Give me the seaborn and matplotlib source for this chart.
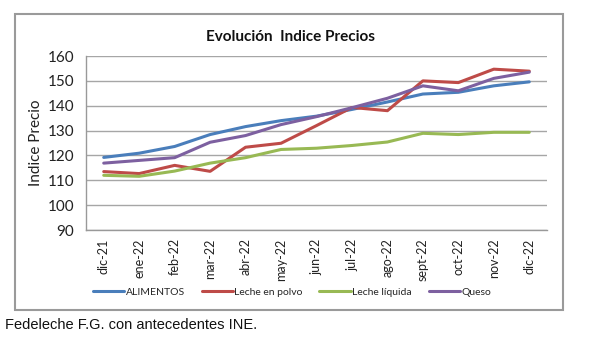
import matplotlib
matplotlib.use("Agg")
import matplotlib.pyplot as plt
import seaborn as sns
import pandas as pd
import numpy as np
from matplotlib.patches import Rectangle

months = ["dic-21", "ene-22", "feb-22", "mar-22", "abr-22", "may-22", "jun-22",
          "jul-22", "ago-22", "sept-22", "oct-22", "nov-22", "dic-22"]
alimentos = [119.2, 120.9, 123.6, 128.4, 131.6, 134.0, 135.8, 138.5, 141.5, 144.7, 145.4, 148.0, 149.6]
leche_polvo = [113.5, 112.7, 116.0, 113.6, 123.3, 124.9, 132.0, 139.3, 138.0, 150.0, 149.3, 154.7, 153.9]
leche_liquida = [112.0, 111.6, 113.7, 116.9, 119.1, 122.4, 122.9, 124.0, 125.4, 128.9, 128.4, 129.3, 129.3]
queso = [116.9, 118.0, 119.1, 125.3, 128.0, 132.4, 135.6, 139.2, 143.0, 148.0, 146.0, 151.0, 153.5]

series_names = ["ALIMENTOS", "Leche en polvo", "Leche líquida", "Queso"]
colors = ["#4A7EBB", "#BE4B48", "#98B954", "#7D60A0"]

df = pd.DataFrame({"mes": months, series_names[0]: alimentos, series_names[1]: leche_polvo,
                   series_names[2]: leche_liquida, series_names[3]: queso})
long = df.melt(id_vars="mes", var_name="serie", value_name="valor")
long["pos"] = long["mes"].map({m: i for i, m in enumerate(months)})

sns.set_style("white")
plt.rcParams["font.family"] = ["Lato", "DejaVu Sans"]

fig = plt.figure(figsize=(6.0, 3.48), dpi=100)
ax = fig.add_axes([86/600, 1-230/348, (547-86)/600, (230-56)/348])

sns.lineplot(data=long, x="pos", y="valor", hue="serie", palette=colors,
             hue_order=series_names, sort=False, linewidth=2.2, ax=ax, legend=False)

ax.set_xlim(-0.5, len(months) - 0.5)
ax.set_ylim(90, 160)
ax.set_yticks(np.arange(90, 161, 10))
ax.set_xticks(range(len(months)))
ax.set_xticklabels(months, rotation=90, fontsize=9, color="#222222")
ax.set_xticks(np.arange(-0.5, len(months), 1.0), minor=True)
ax.tick_params(axis="x", which="major", length=0, pad=6)
ax.tick_params(axis="x", which="minor", length=5, color="#999999", width=1, direction="out")
ax.tick_params(axis="y", length=5, color="#999999", width=1, direction="out", labelsize=11, labelcolor="#222222")
ax.set_xlabel("")
ax.set_ylabel("Indice Precio", fontsize=11, color="#222222")
ax.yaxis.set_label_coords((43 - 86) / 461, 0.5)
ax.yaxis.grid(True, color="#A6A6A6", linewidth=1)
ax.xaxis.grid(False)
for s in ["top", "right"]:
    ax.spines[s].set_visible(False)
ax.spines["left"].set_color("#999999")
ax.spines["bottom"].set_color("#999999")
ax.spines["left"].set_linewidth(1)
ax.spines["bottom"].set_linewidth(1)
ax.set_axisbelow(True)

fig.text(290/600, 1-37/348, "Evolución  Indice Precios", ha="center", va="center",
         fontsize=11, fontweight="bold", color="#111111")

handles = [plt.Line2D([], [], color=c, linewidth=2.2) for c in colors]
fig.legend(handles, series_names, loc="center", bbox_to_anchor=(292/600, 1-292/348),
           ncol=4, frameon=False, fontsize=7.5, handlelength=3.0, handletextpad=0.15,
           columnspacing=1.6)

fig.patches.append(Rectangle((15/600, 1-310/348), (563-15)/600, (310-14)/348,
                             transform=fig.transFigure, fill=False,
                             edgecolor="#9A9A9A", linewidth=1.5))

fig.text(5/600, 1-325/348, "Fedeleche F.G. con antecedentes INE.", ha="left", va="center",
         fontsize=10.5, color="#111111", family=["Liberation Sans", "DejaVu Sans"])

fig.savefig("out.png", dpi=100)
